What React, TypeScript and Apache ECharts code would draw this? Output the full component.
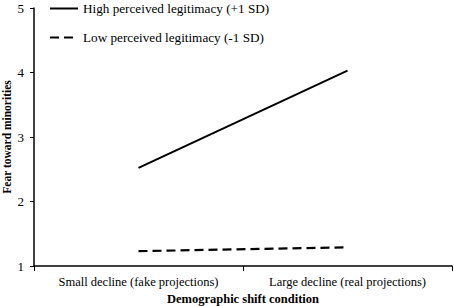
import React, { useEffect, useRef } from "react";
import * as echarts from "echarts";

const categories = ["Small decline (fake projections)", "Large decline (real projections)"];
const highLegitimacy = [2.52, 4.03];
const lowLegitimacy = [1.23, 1.29];
const yTicks = [1, 2, 3, 4, 5];
const seriesNames = ["High perceived legitimacy (+1 SD)", "Low perceived legitimacy (-1 SD)"];

const FONT = "'Liberation Serif', 'Times New Roman', serif";

export default function App() {
  const ref = useRef<HTMLDivElement>(null);
  useEffect(() => {
    if (!ref.current) return;
    const chart = echarts.init(ref.current, undefined, { renderer: "svg" });
    chart.setOption({
      animation: false,
      backgroundColor: "#fff",
      textStyle: { fontFamily: FONT, color: "#000" },
      grid: { left: 34, right: 2, top: 8, bottom: 40, containLabel: false, outerBoundsMode: "none" },
      legend: {
        orient: "vertical",
        left: 44,
        top: -3,
        itemGap: 16,
        itemWidth: 28,
        itemHeight: 14,
        itemStyle: { opacity: 0 },
        textStyle: { fontFamily: FONT, fontSize: 13.2, color: "#000" },
        data: seriesNames,
      },
      xAxis: {
        type: "category",
        data: categories,
        boundaryGap: true,
        axisLine: { lineStyle: { color: "#000", width: 1.5 } },
        axisTick: { show: true, alignWithLabel: false, length: 5, lineStyle: { color: "#000" } },
        axisLabel: { interval: 0, fontFamily: FONT, fontSize: 12.5, color: "#000", margin: 9 },
        name: "Demographic shift condition",
        nameLocation: "middle",
        nameGap: 26,
        nameTextStyle: { fontFamily: FONT, fontSize: 12.5, fontWeight: "bold", color: "#000" },
      },
      yAxis: {
        type: "value",
        min: yTicks[0],
        max: yTicks[yTicks.length - 1],
        interval: 1,
        splitLine: { show: false },
        axisLine: { show: true, lineStyle: { color: "#000", width: 1.5 } },
        axisTick: { show: true, length: 4, lineStyle: { color: "#000" } },
        axisLabel: { fontFamily: FONT, fontSize: 13, color: "#000", margin: 10 },
        name: "Fear toward minorities",
        nameLocation: "middle",
        nameGap: 21,
        nameMoveOverlap: false,
        nameTextStyle: { fontFamily: FONT, fontSize: 11.5, fontWeight: "bold", color: "#000" },
      },
      series: [
        {
          name: seriesNames[0],
          type: "line",
          data: highLegitimacy,
          symbol: "none",
          lineStyle: { color: "#000", width: 2, type: "solid" },
          itemStyle: { color: "#000" },
        },
        {
          name: seriesNames[1],
          type: "line",
          data: lowLegitimacy,
          symbol: "none",
          lineStyle: { color: "#000", width: 2.2, type: [9, 5] },
          itemStyle: { color: "#000" },
        },
      ],
    });
    return () => chart.dispose();
  }, []);
  return <div ref={ref} style={{ width: 454, height: 306, position: "absolute", left: 0, top: 0 }} />;
}
